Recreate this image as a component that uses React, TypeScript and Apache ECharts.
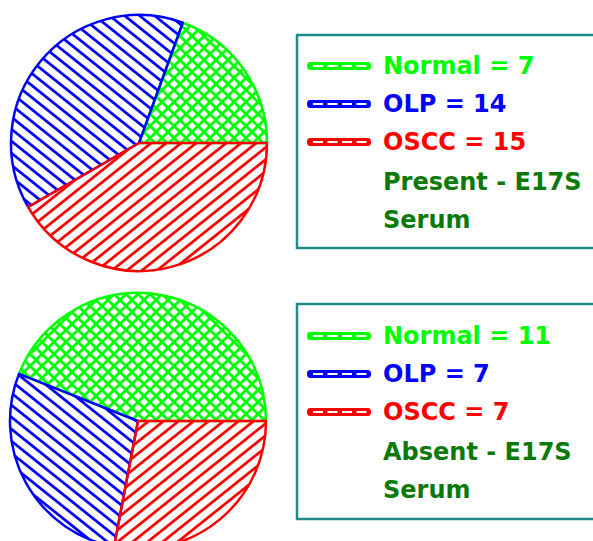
import React, { useEffect, useRef } from "react";
import * as echarts from "echarts";

const categories = ["Normal", "OLP", "OSCC"];
const presentValues = [7, 14, 15];
const absentValues = [11, 7, 7];
const groupTitles = ["Present - E17S\nSerum", "Absent - E17S\nSerum"];
const solidColors = ["#00ff00", "#0000ff", "#ff0000"];
const noteColor = "#0b7a0b";
const boxColor = "#1f8a8a";
const FONT = "DejaVu Sans";

function svgUrl(w: number, h: number, body: string) {
  const svg = `<svg xmlns="http://www.w3.org/2000/svg" width="${w}" height="${h}" viewBox="0 0 ${w} ${h}">${body}</svg>`;
  return "data:image/svg+xml;charset=utf-8," + encodeURIComponent(svg);
}

function hatch(kind: "slash" | "back" | "cross", color: string) {
  const sw = 2.7;
  let w = 15, h = 12, body = "";
  const line = (x1: number, y1: number, x2: number, y2: number) =>
    `<line x1="${x1}" y1="${y1}" x2="${x2}" y2="${y2}" stroke="${color}" stroke-width="${sw}"/>`;
  if (kind === "slash") {
    w = 15; h = 12;
    for (const k of [-1, 0, 1]) {
      const f = (x: number) => h - (h / w) * x + h * k;
      body += line(-4, f(-4), w + 4, f(w + 4));
    }
  } else if (kind === "back") {
    w = 15; h = 12;
    for (const k of [-1, 0, 1]) {
      const f = (x: number) => (h / w) * x + h * k;
      body += line(-4, f(-4), w + 4, f(w + 4));
    }
  } else {
    w = 12; h = 12;
    for (const k of [-1, 0, 1]) {
      const f = (x: number) => h - x + h * k;
      const g = (x: number) => x + h * k;
      body += line(-4, f(-4), w + 4, f(w + 4));
      body += line(-4, g(-4), w + 4, g(w + 4));
    }
  }
  return { image: svgUrl(w, h, body), repeat: "repeat", imageWidth: w, imageHeight: h } as any;
}

const hatchKinds: ("cross" | "back" | "slash")[] = ["cross", "back", "slash"];

// legend icon: bar with white dashes (holes)
function legendIcon() {
  let d = "path://M3,0 L61,0 Q64,0 64,4 Q64,8 61,8 L3,8 Q0,8 0,4 Q0,0 3,0 Z";
  for (let i = 0; i < 4; i++) {
    const x0 = 6 + i * 14.5;
    d += ` M${x0},3 L${x0},5 L${x0 + 10},5 L${x0 + 10},3 Z`;
  }
  return d;
}

function buildData(values: number[]) {
  return categories.map((c, i) => ({
    name: `${c} = ${values[i]}`,
    value: values[i],
    itemStyle: {
      color: hatch(hatchKinds[i], solidColors[i]),
      borderColor: solidColors[i],
      borderWidth: 2.5,
    },
  }));
}

function buildLegend(values: number[], top: number) {
  return {
    orient: "vertical",
    left: 307,
    top,
    padding: 0,
    itemWidth: 64,
    itemHeight: 9,
    itemGap: 8,
    icon: legendIcon(),
    selectedMode: false,
    textStyle: {
      fontFamily: FONT,
      fontSize: 24,
      fontWeight: "bold",
      lineHeight: 30,
      padding: [0, 0, 0, 7],
    },
    data: categories.map((c, i) => ({
      name: `${c} = ${values[i]}`,
      itemStyle: { color: solidColors[i], borderWidth: 0 },
      textStyle: { color: solidColors[i] },
    })),
  };
}

export default function App() {
  const ref = useRef<HTMLDivElement>(null);
  useEffect(() => {
    if (!ref.current) return;
    const chart = echarts.init(ref.current, null, { renderer: "svg" });
    const titleStyle = {
      fontFamily: FONT,
      fontSize: 24,
      fontWeight: "bold",
      color: noteColor,
      lineHeight: 38,
    };
    chart.setOption({
      animation: false,
      backgroundColor: "#ffffff",
      title: [
        { text: groupTitles[0], left: 383, top: 163, padding: 0, textStyle: titleStyle },
        { text: groupTitles[1], left: 383, top: 433, padding: 0, textStyle: titleStyle },
      ],
      legend: [buildLegend(presentValues, 51), buildLegend(absentValues, 321)],
      graphic: [
        {
          type: "rect",
          shape: { x: 297, y: 35, width: 330, height: 213 },
          style: { fill: "none", stroke: boxColor, lineWidth: 2.5 },
          silent: true,
        },
        {
          type: "rect",
          shape: { x: 297, y: 304, width: 330, height: 215 },
          style: { fill: "none", stroke: boxColor, lineWidth: 2.5 },
          silent: true,
        },
      ],
      series: [
        {
          type: "pie",
          center: [139, 143],
          radius: 128,
          startAngle: 0,
          clockwise: false,
          label: { show: false },
          labelLine: { show: false },
          emphasis: { disabled: true },
          data: buildData(presentValues),
        },
        {
          type: "pie",
          center: [138, 421],
          radius: 128,
          startAngle: 0,
          clockwise: false,
          label: { show: false },
          labelLine: { show: false },
          emphasis: { disabled: true },
          data: buildData(absentValues),
        },
      ],
    });
    return () => chart.dispose();
  }, []);
  return (
    <div
      ref={ref}
      style={{ position: "fixed", left: 0, top: 0, width: 593, height: 541 }}
    />
  );
}
